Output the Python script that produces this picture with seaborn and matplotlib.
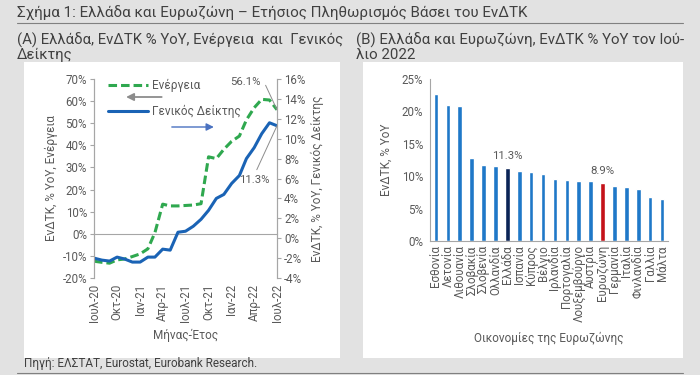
import pandas as pd
import matplotlib.pyplot as plt
import seaborn as sns
from matplotlib.patches import Rectangle
from matplotlib.lines import Line2D

#------------------------------------------
# (A) monthly HICP yoy, Greece
months=pd.date_range('2020-07-01', '2022-07-01', freq='MS')
energy=[-12.4, -12.9, -13.3, -11.8, -11.4, -10.3, -9.1, -6.8, 0.5, 13.4, 12.6, 12.6, 12.8, 13.0, 13.6,
        34.8, 34.0, 38.2, 41.8, 44.2, 51.5, 57.0, 60.8, 60.5, 56.1]
headline=[-2.0, -2.2, -2.3, -1.9, -2.1, -2.4, -2.4, -1.9, -1.9, -1.1, -1.2, 0.6, 0.7, 1.2, 1.9,
          2.8, 4.0, 4.4, 5.5, 6.3, 8.0, 9.1, 10.5, 11.6, 11.3]
month_ticks=['Ιουλ-20', 'Οκτ-20', 'Ιαν-21', 'Απρ-21', 'Ιουλ-21', 'Οκτ-21', 'Ιαν-22', 'Απρ-22', 'Ιουλ-22']

# (B) HICP yoy July 2022, euro area
countries=['Εσθονία', 'Λετονία', 'Λιθουανία', 'Σλοβακία', 'Σλοβενία', 'Ολλανδία', 'Ελλάδα', 'Ισπανία',
           'Κύπρος', 'Βέλγιο', 'Ιρλανδία', 'Πορτογαλία', 'Λουξεμβούργο', 'Αυστρία', 'Ευρωζώνη',
           'Γερμανία', 'Ιταλία', 'Φινλανδία', 'Γαλλία', 'Μάλτα']
hicp_jul22=[22.7, 21.0, 20.8, 12.8, 11.7, 11.6, 11.3, 10.8, 10.6, 10.4, 9.6, 9.4, 9.3, 9.3, 8.9,
            8.5, 8.4, 8.0, 6.8, 6.5]
labelled=['Ελλάδα', 'Ευρωζώνη']

#------------------------------------------
green='#2fa84f'
blue='#1a63b5'
bar_blue='#1f78c8'
navy='#0b2456'
red='#c4121a'
grey_txt='#595959'
spine_c='#a6a6a6'
bg='#e2e2e2'

sns.set_style('white')
plt.rcParams['font.family']=['Roboto', 'DejaVu Sans']
plt.rcParams['axes.edgecolor']=spine_c
plt.rcParams['xtick.color']=spine_c
plt.rcParams['ytick.color']=spine_c
plt.rcParams['xtick.labelcolor']=grey_txt
plt.rcParams['ytick.labelcolor']=grey_txt

W, H=700, 375
def fx(px): return px/W
def fy(py): return 1-py/H

fig=plt.figure(figsize=(7, 3.75), dpi=100, facecolor=bg)

# white panels + rules
for x0, x1 in [(24, 340), (363, 683)]:
    fig.add_artist(Rectangle((fx(x0), fy(358)), fx(x1-x0), (358-62)/H, transform=fig.transFigure,
                             facecolor='white', edgecolor='none', zorder=0))
for yy in [23, 373]:
    fig.add_artist(Line2D([fx(17), fx(683)], [fy(yy)]*2, color='#808080', lw=0.8))

fig.text(fx(17), fy(13), 'Σχήμα 1: Ελλάδα και Ευρωζώνη – Ετήσιος Πληθωρισμός Βάσει του ΕνΔΤΚ',
         fontsize=10.9, color='#404040', va='center')
fig.text(fx(17), fy(33), '(A) Ελλάδα, ΕνΔΤΚ % ΥοΥ, Ενέργεια  και  Γενικός\nΔείκτης',
         fontsize=10.7, color='#404040', va='top', linespacing=0.95)
fig.text(fx(356), fy(33), '(B) Ελλάδα και Ευρωζώνη, ΕνΔΤΚ % ΥοΥ τον Ιού-\nλιο 2022',
         fontsize=10.8, color='#404040', va='top', linespacing=0.95)
fig.text(fx(24), fy(364), 'Πηγή: ΕΛΣΤΑΤ, Eurostat, Eurobank Research.',
         fontsize=8.5, color='#404040', va='center')

#------------------------------------------ (A)
df=pd.DataFrame({'month': months, 'energy': energy, 'headline': headline})
axA=fig.add_axes([fx(94), fy(278), fx(277-94), (278-79)/H])
axA.set_facecolor('none')
axA2=axA.twinx()

sns.lineplot(data=df, x='month', y='energy', ax=axA, color=green, lw=2.2, linestyle=(0, (2.8, 1.3)))
sns.lineplot(data=df, x='month', y='headline', ax=axA2, color=blue, lw=2.2)

axA.set_xlim(months[0], months[-1])
axA.set_ylim(-20, 70)
axA.set_yticks(range(-20, 71, 10), [f'{v}%' for v in range(-20, 71, 10)])
axA2.set_ylim(-4, 16)
axA2.set_yticks(range(-4, 17, 2), [f'{v}%' for v in range(-4, 17, 2)])
axA.tick_params(axis='y', length=3, labelsize=8.3, pad=2)
axA2.tick_params(axis='y', length=3, labelsize=8.3, pad=2)

# zero line carries the ticks, labels sit at the bottom
axA.spines['bottom'].set_position(('data', 0))
axA.set_xticks(months[::3])
axA.tick_params(axis='x', labelbottom=False, direction='in', length=3)
sec=axA.secondary_xaxis('bottom')
sec.set_xticks(months[::3], month_ticks, rotation=90)
sec.tick_params(length=0, labelsize=8.3, pad=4)
sec.spines['bottom'].set_visible(False)
sec.set_xlabel('Μήνας-Έτος', fontsize=8.5, color=grey_txt, labelpad=5)

for a in [axA, axA2]:
    a.spines['top'].set_visible(False)
axA2.spines['bottom'].set_visible(False)
axA.set_xlabel('')
axA.set_ylabel('ΕνΔΤΚ, % ΥοΥ, Ενέργεια', fontsize=8.5, color=grey_txt, labelpad=3)
axA2.set_ylabel('ΕνΔΤΚ, % ΥοΥ, Γενικός Δείκτης', fontsize=8.5, color=grey_txt, labelpad=4)

axA.legend(handles=[Line2D([], [], color=green, lw=2.2, ls=(0, (2.8, 1.3)), label='Ενέργεια'),
                    Line2D([], [], color=blue, lw=2.2, label='Γενικός Δείκτης')],
           loc='upper left', bbox_to_anchor=(0.077, 1.0), frameon=False, fontsize=8.5,
           handlelength=3.4, handletextpad=0.3, labelspacing=1.05, borderpad=0, borderaxespad=0,
           labelcolor=grey_txt)
axA.annotate('', xy=(0.16, (278-97)/199), xytext=(0.385, (278-97)/199), xycoords='axes fraction',
             arrowprops=dict(arrowstyle='-|>', color='#8c8c8c', lw=1.3, mutation_scale=11))
axA.annotate('', xy=(0.67, (278-127)/199), xytext=(0.41, (278-127)/199), xycoords='axes fraction',
             arrowprops=dict(arrowstyle='-|>', color='#4a72c0', lw=1.0, mutation_scale=11))

axA.annotate(f'{energy[-1]}%', xy=(months[-1], energy[-1]), xytext=(0.83, 0.985),
             textcoords='axes fraction', ha='center', va='center', fontsize=8.2, color=grey_txt,
             arrowprops=dict(arrowstyle='-', color='#8c8c8c', lw=0.7, relpos=(1, 0.5),
                             connectionstyle='angle,angleA=0,angleB=115,rad=0', shrinkA=2, shrinkB=0))
axA2.annotate(f'{headline[-1]}%', xy=(months[-1], headline[-1]), xytext=(0.875, 0.49),
              textcoords='axes fraction', ha='center', va='center', fontsize=8.2, color=grey_txt,
              arrowprops=dict(arrowstyle='-', color='#8c8c8c', lw=0.7, relpos=(0.5, 1),
                              shrinkA=2, shrinkB=0))

#------------------------------------------ (B)
dfb=pd.DataFrame({'country': countries, 'value': hicp_jul22})
pal={c: (navy if c=='Ελλάδα' else red if c=='Ευρωζώνη' else bar_blue) for c in countries}
axB=fig.add_axes([fx(430), fy(241), fx(668-430), (241-79)/H])
axB.set_facecolor('none')
sns.barplot(data=dfb, x='country', y='value', hue='country', palette=pal, legend=False,
            width=0.38, saturation=1, ax=axB)
axB.set_xlim(-0.5, len(countries)-0.5)
axB.set_ylim(0, 25)
axB.set_yticks(range(0, 26, 5), [f'{v}%' for v in range(0, 26, 5)])
axB.tick_params(axis='y', length=3, labelsize=8.3, pad=2)
axB.tick_params(axis='x', length=0, labelsize=8.3, rotation=90, pad=3)
axB.set_xticks([i+0.5 for i in range(-1, len(countries))], minor=True)
axB.tick_params(axis='x', which='minor', length=3)
axB.spines['top'].set_visible(False)
axB.spines['right'].set_visible(False)
axB.set_ylabel('ΕνΔΤΚ, % ΥοΥ', fontsize=8.5, color=grey_txt, labelpad=6)
axB.set_xlabel('Οικονομίες της Ευρωζώνης', fontsize=8.5, color=grey_txt, labelpad=7)
for c in labelled:
    i=countries.index(c)
    axB.annotate(f'{hicp_jul22[i]}%', xy=(i, hicp_jul22[i]), xytext=(0, 5), textcoords='offset points',
                 ha='center', va='bottom', fontsize=8.2, color=grey_txt)

fig.savefig('out.png', dpi=100, facecolor=bg)
